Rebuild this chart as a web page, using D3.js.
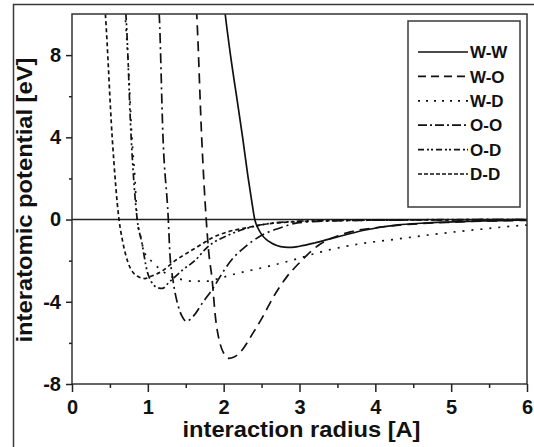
<!DOCTYPE html>
<html><head><meta charset="utf-8">
<script src="https://cdn.jsdelivr.net/npm/d3@7"></script>
<style>
html,body{margin:0;padding:0;background:#fff;}
svg{display:block;font-family:"Liberation Sans",Arial,sans-serif;}
</style></head>
<body><div id="chart"></div>
<script>
// ---- data (radius in Å, potential in eV) ----
const seriesNames = ["W-W","W-O","W-D","O-O","O-D","D-D"];
const wwR = [1.99,2.02,2.09,2.17,2.25,2.32,2.37,2.41,2.45,2.5,2.56,2.63,2.7,2.8,2.9,3.0,3.2,3.44,3.6,3.85,4.3,4.6,5.1,5.5,6.0];
const wwV = [11,10,8,6,4,2.1,0.9,0,-0.4,-0.72,-0.97,-1.14,-1.26,-1.34,-1.35,-1.3,-1.14,-0.9,-0.75,-0.52,-0.26,-0.18,-0.1,-0.06,-0.02];
const woR = [1.63,1.65,1.71,1.77,1.8,1.85,1.89,1.95,2.0,2.07,2.13,2.22,2.39,2.52,2.65,2.83,3.0,3.27,3.5,3.67,4.0,4.5,5.0,5.5,6.0];
const woV = [11,9.6,4,0,-1.46,-3.0,-4.7,-6.0,-6.5,-6.75,-6.7,-6.45,-5.5,-4.7,-3.8,-2.8,-2.1,-1.2,-0.8,-0.6,-0.4,-0.22,-0.13,-0.07,-0.04];
const wdR = [0.68,0.70,0.75,0.79,0.83,0.86,0.91,0.95,1.07,1.19,1.32,1.45,1.6,1.78,1.95,2.2,2.48,2.88,3.36,3.8,4.24,4.7,5.12,5.5,5.91,6.0];
const wdV = [11,10,7,4,2,0,-0.9,-1.55,-2.1,-2.5,-2.8,-2.92,-3.0,-3.0,-2.85,-2.6,-2.37,-2.0,-1.5,-1.18,-0.97,-0.75,-0.57,-0.43,-0.29,-0.27];
const ooR = [1.13,1.15,1.2,1.27,1.29,1.33,1.40,1.45,1.51,1.6,1.73,1.85,2.0,2.13,2.26,2.52,2.75,2.97,3.3,3.8,4.5,5.2,6.0];
const ooV = [11,10,4,0,-1.6,-2.9,-4.2,-4.7,-4.95,-4.7,-4.0,-3.4,-2.5,-1.85,-1.4,-0.73,-0.4,-0.16,-0.08,-0.04,-0.02,-0.01,0];
const odR = [0.68,0.71,0.78,0.86,0.92,0.99,1.05,1.12,1.19,1.28,1.46,1.62,1.78,2.08,2.52,3.0,3.5,4.5,6.0];
const odV = [11,10,4,0,-1.1,-2.5,-3.05,-3.3,-3.35,-3.05,-2.45,-2.0,-1.36,-0.73,-0.24,-0.08,-0.03,-0.01,0];
const ddR = [0.42,0.44,0.53,0.62,0.67,0.74,0.86,0.96,1.05,1.19,1.36,1.53,1.71,1.85,2.05,2.3,2.6,3.0,3.5,4.5,6.0];
const ddV = [11,10,4,0,-1.1,-2.1,-2.75,-2.87,-2.75,-2.5,-2.0,-1.6,-1.2,-0.89,-0.6,-0.4,-0.2,-0.1,-0.05,-0.02,0];
const xTicks = [0,1,2,3,4,5,6];
const yTicks = [-8,-4,0,4,8];

const seriesR = [wwR,woR,wdR,ooR,odR,ddR];
const seriesV = [wwV,woV,wdV,ooV,odV,ddV];
const dashes = [null,"10,6","2,7","10,4,2,4","7,3,2,3,2,3","4,3"];
const legendDashes = [null,"8,5","2,6","9,3,2,3","6,3,2,2,2,3","4,2"];

const W = 534, H = 447;
const m = {left:72, right:527, top:14, bottom:384};
const svg = d3.select("#chart").append("svg").attr("width",W).attr("height",H);

// outer frame
svg.append("rect").attr("x",13.5).attr("y",4.5).attr("width",540).attr("height",460)
  .attr("fill","none").attr("stroke","#3a3a3a").attr("stroke-width",1.5);

const x = d3.scaleLinear().domain([0,6]).range([m.left,m.right]);
const y = d3.scaleLinear().domain([-8,10]).range([m.bottom,m.top]);

svg.append("clipPath").attr("id","clip").append("rect")
  .attr("x",m.left).attr("y",m.top).attr("width",m.right-m.left).attr("height",m.bottom-m.top);

// zero line
svg.append("line").attr("x1",m.left).attr("x2",m.right).attr("y1",y(0)).attr("y2",y(0))
  .attr("stroke","#222").attr("stroke-width",1.5);

const line = d3.line().x(d=>x(d[0])).y(d=>y(d[1])).curve(d3.curveMonotoneX);
const g = svg.append("g").attr("clip-path","url(#clip)");
seriesNames.forEach((n,i)=>{
  const pts = seriesR[i].map((r,j)=>[r,seriesV[i][j]]);
  g.append("path").attr("d",line(pts)).attr("fill","none").attr("stroke","#111")
    .attr("stroke-width",1.7).attr("stroke-dasharray",dashes[i]);
});

// frame of plot
svg.append("rect").attr("x",m.left).attr("y",m.top).attr("width",m.right-m.left).attr("height",m.bottom-m.top)
  .attr("fill","none").attr("stroke","#333").attr("stroke-width",1.5);

const fmt = d => String(d);
// axes
const xAxis = d3.axisBottom(x).tickValues(xTicks).tickFormat(fmt).tickSize(8).tickSizeOuter(0);
const xg = svg.append("g").attr("transform",`translate(0,${m.bottom})`).call(xAxis);
xg.select(".domain").remove();
xg.selectAll(".tick line").attr("stroke","#222").attr("stroke-width",1.5);
xg.selectAll(".tick text").attr("font-size",20).attr("font-weight","bold").attr("fill","#111")
  .attr("font-family","Liberation Sans, Arial, sans-serif").attr("dy","0.95em");
const xMinor = d3.axisBottom(x).tickValues(d3.range(0.5,6,1)).tickFormat("").tickSize(4).tickSizeOuter(0);
const xmg = svg.append("g").attr("transform",`translate(0,${m.bottom})`).call(xMinor);
xmg.select(".domain").remove();
xmg.selectAll(".tick line").attr("stroke","#222").attr("stroke-width",1.5);

const yAxis = d3.axisLeft(y).tickValues(yTicks).tickFormat(fmt).tickSize(6).tickSizeOuter(0).tickPadding(5);
const yg = svg.append("g").attr("transform",`translate(${m.left},0)`).call(yAxis);
yg.select(".domain").remove();
yg.selectAll(".tick line").attr("stroke","#222").attr("stroke-width",1.5);
yg.selectAll(".tick text").attr("font-size",20).attr("font-weight","bold").attr("fill","#111")
  .attr("font-family","Liberation Sans, Arial, sans-serif");
const yMinor = d3.axisLeft(y).tickValues([-6,-2,2,6]).tickFormat("").tickSize(3).tickSizeOuter(0);
const ymg = svg.append("g").attr("transform",`translate(${m.left},0)`).call(yMinor);
ymg.select(".domain").remove();
ymg.selectAll(".tick line").attr("stroke","#222").attr("stroke-width",1.5);

// axis titles
svg.append("text").attr("x",(m.left+m.right)/2+2).attr("y",437).attr("text-anchor","middle")
  .attr("font-size",22).attr("font-weight","bold").attr("fill","#111")
  .attr("textLength",238).attr("lengthAdjust","spacingAndGlyphs")
  .text("interaction radius [A]");
svg.append("text").attr("transform","translate(32,200) rotate(-90)").attr("text-anchor","middle")
  .attr("font-size",22).attr("font-weight","bold").attr("fill","#111")
  .attr("textLength",285).attr("lengthAdjust","spacingAndGlyphs")
  .text("interatomic potential [eV]");

// legend
const lg = svg.append("g");
lg.append("rect").attr("x",408).attr("y",21).attr("width",112).attr("height",186)
  .attr("fill","#fff").attr("stroke","#3a3a3a").attr("stroke-width",1.5);
seriesNames.forEach((n,i)=>{
  const yy = 52 + i*24.4;
  lg.append("line").attr("x1",418).attr("x2",468).attr("y1",yy).attr("y2",yy)
    .attr("stroke","#111").attr("stroke-width",1.7).attr("stroke-dasharray",legendDashes[i]);
  lg.append("text").attr("x",470).attr("y",yy).attr("dy","0.36em")
    .attr("font-size",17).attr("font-weight","bold").attr("fill","#111").text(n);
});
</script></body></html>
